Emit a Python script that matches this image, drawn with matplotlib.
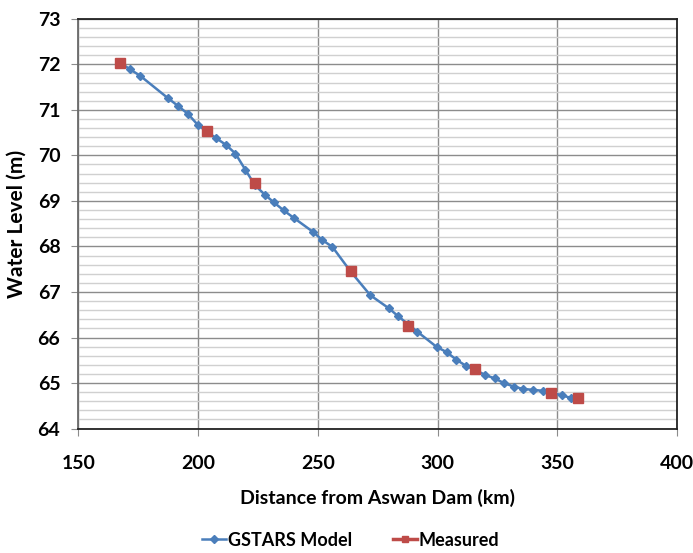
import matplotlib.pyplot as plt
from matplotlib.ticker import MultipleLocator

plt.rcParams['font.family'] = ['Lato', 'DejaVu Sans']

# GSTARS model results
model_km = [168, 171.6, 175.8, 187.6, 191.8, 195.8, 199.9, 203.7, 207.5, 211.7,
            215.6, 219.8, 223.7, 227.8, 231.6, 235.8, 239.9, 248.0, 251.9, 256.1,
            263.7, 271.9, 279.7, 283.5, 287.5, 291.5, 299.7, 303.8, 307.9, 311.8,
            315.7, 319.8, 323.9, 327.7, 331.9, 335.8, 340.0, 343.9, 347.6, 352.0,
            355.9]
model_wl = [72.02, 71.89, 71.75, 71.25, 71.08, 70.91, 70.67, 70.52, 70.38, 70.23,
            70.04, 69.68, 69.35, 69.14, 68.97, 68.79, 68.63, 68.32, 68.14, 67.99,
            67.45, 66.93, 66.64, 66.47, 66.30, 66.13, 65.79, 65.68, 65.51, 65.38,
            65.29, 65.18, 65.10, 65.00, 64.92, 64.87, 64.85, 64.83, 64.79, 64.73,
            64.67]

# measured water levels
meas_km = [167.6, 203.6, 223.6, 263.7, 287.5, 315.7, 347.5, 358.7]
meas_wl = [72.03, 70.54, 69.39, 67.45, 66.26, 65.30, 64.79, 64.67]

fig = plt.figure(figsize=(6.93, 5.53), dpi=100)
ax = fig.add_axes([0.113, 0.225, 0.864, 0.741])

ax.plot(model_km, model_wl, color='#4a7ebb', lw=1.8, marker='D', ms=4.5,
        mec='#4a7ebb', label='GSTARS Model', zorder=3)
ax.plot(meas_km, meas_wl, ls='none', marker='s', ms=7.5, color='#be4b48',
        zorder=4)
# legend entry for measured shows a short line with the marker, as in Excel
ax.plot([], [], color='#be4b48', lw=2.5, marker='s', ms=5.5, label='Measured')

ax.set_xlim(150, 400)
ax.set_ylim(64, 73)
ax.xaxis.set_major_locator(MultipleLocator(50))
ax.yaxis.set_major_locator(MultipleLocator(1))
ax.yaxis.set_minor_locator(MultipleLocator(0.2))
ax.grid(which='major', color='#8c8c8c', lw=1.0)
ax.grid(which='minor', axis='y', color='#d0d0d0', lw=1.0)
ax.set_axisbelow(True)
ax.tick_params(which='major', direction='out', length=5, color='#8c8c8c',
               labelsize=14)
ax.tick_params(axis='x', pad=14)
ax.tick_params(axis='y', pad=8)
ax.tick_params(which='minor', length=0)
for lab in ax.get_xticklabels() + ax.get_yticklabels():
    lab.set_fontweight('bold')
for s in ax.spines.values():
    s.set_color('#222222')
    s.set_linewidth(1.3)
ax.spines['left'].set_color('#6a6a6a')

ax.set_xlabel('Distance from Aswan Dam (km)', fontsize=14, fontweight='bold', labelpad=12)
ax.set_ylabel('Water Level (m)', fontsize=15, fontweight='bold', labelpad=8)

ax.legend(loc='center', bbox_to_anchor=(0.455, -0.272), ncol=2, frameon=False,
          prop={'weight': 'bold', 'size': 13}, handlelength=1.3,
          handletextpad=0.1, columnspacing=2.3, markerscale=0.8)

fig.savefig('out.png', dpi=100)
